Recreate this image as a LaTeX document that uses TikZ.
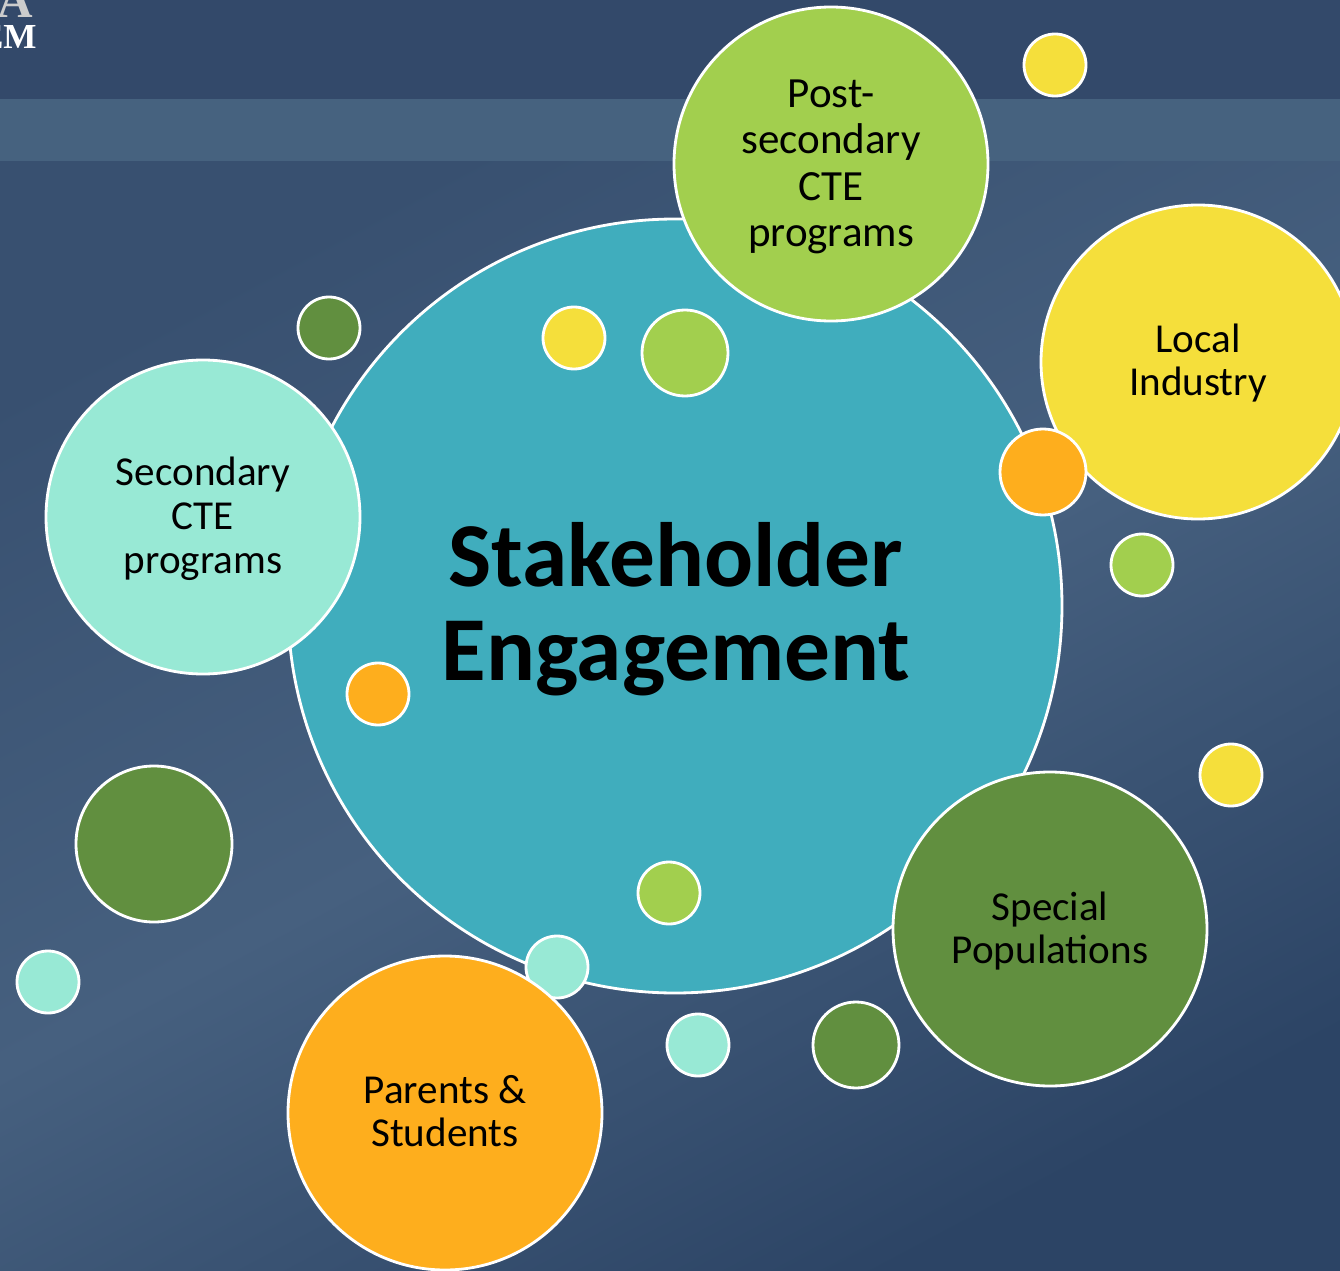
\documentclass[tikz,border=0pt]{standalone}
\usepackage{fontspec}
\setmainfont{Carlito}
\newfontfamily\logofont{Liberation Serif}
\definecolor{bandtop}{HTML}{33496A}
\definecolor{bandmid}{HTML}{46627F}
\definecolor{bgfirst}{HTML}{385070}
\definecolor{bgmiddle}{HTML}{46607F}
\definecolor{bglast}{HTML}{2C4465}
\definecolor{teal}{HTML}{40ADBD}
\definecolor{lime}{HTML}{A2CF4E}
\definecolor{sun}{HTML}{F5DF3B}
\definecolor{aqua}{HTML}{98E9D5}
\definecolor{leaf}{HTML}{618F3F}
\definecolor{amber}{HTML}{FEAE1D}
\tikzset{
  bubble/.style={circle,draw=white,line width=1.6pt,inner sep=0pt},
  large/.style={bubble,minimum size=314*0.02cm},
  dot/.style={bubble,minimum size=62*0.02cm},
  middot/.style={bubble,minimum size=86*0.02cm},
  caption/.style={inner sep=0pt,align=center,text=black,font=\fontsize{23.4}{25}\selectfont},
}
\begin{document}
\begin{tikzpicture}[x=0.02cm,y=-0.02cm]
    \useasboundingbox (0,0) rectangle (1340,1271);
    \begin{scope}
    \clip (0,0) rectangle (1340,1271);
    % background
    \shade[top color=bgfirst,bottom color=bglast,middle color=bgmiddle,shading angle=28] (0,161) rectangle (1340,1271);
    \fill[bandtop] (0,0) rectangle (1340,99);
    \fill[bandmid] (0,99) rectangle (1340,161);
    \node[anchor=east,text=white,font=\logofont\bfseries\fontsize{20}{20}\selectfont,inner sep=0pt] (logoword) at (37,37) {EM};
    \node[anchor=south,text=white!60!gray,font=\logofont\bfseries\fontsize{28}{28}\selectfont,inner sep=0pt] (logomark) at (15,18) {A};
    % big circle
    \node[bubble,fill=teal,minimum size=774*0.02cm] (main) at (675,606) {};
    \node[inner sep=0pt,align=center,font=\bfseries\fontsize{52}{53.4}\selectfont] (title) at (676,609) {Stakeholder\\Engagement};
    % this one lies under the parents circle
    \node[dot,fill=aqua] (aquab) at (557,967) {};
    % groups
    \node[large,fill=lime] (postsec) at (831,164) {};
    \node[large,fill=sun] (industry) at (1198,362) {};
    \node[large,fill=aqua] (secondary) at (203,517) {};
    \node[large,fill=leaf] (special) at (1050,929) {};
    \node[large,fill=amber] (parents) at (445,1113) {};
    \node[caption,font=\fontsize{24.5}{26.5}\selectfont,yshift=-0.06cm] (postsectext) at (postsec) {Post-\\secondary\\CTE\\programs};
    \node[caption,yshift=-0.02cm] (industrytext) at (industry) {Local\\Industry};
    \node[caption,yshift=-0.03cm] (secondarytext) at (secondary) {Secondary\\CTE\\programs};
    \node[caption,yshift=-0.04cm] (specialtext) at (special) {Special\\Populations};
    \node[caption,font=\fontsize{23.4}{24.5}\selectfont,yshift=0.04cm] (parentstext) at (parents) {Parents \&\\Students};
    % small circles
    \node[dot,fill=sun] (suna) at (1055,65) {};
    \node[dot,fill=leaf] (leafa) at (329,328) {};
    \node[dot,fill=sun] (sunb) at (574,338) {};
    \node[middot,fill=lime] (limea) at (685,353) {};
    \node[middot,fill=amber] (ambera) at (1043,472) {};
    \node[dot,fill=lime] (limeb) at (1142,565) {};
    \node[dot,fill=sun] (sunc) at (1231,775) {};
    \node[dot,fill=amber] (amberb) at (378,694) {};
    \node[bubble,fill=leaf,minimum size=156*0.02cm] (leafb) at (154,844) {};
    \node[dot,fill=aqua] (aquaa) at (48,982) {};
    \node[dot,fill=lime] (limec) at (669,893) {};
    \node[dot,fill=aqua] (aquac) at (698,1045) {};
    \node[middot,fill=leaf] (leafc) at (856,1045) {};
    \end{scope}
\end{tikzpicture}
\end{document}
